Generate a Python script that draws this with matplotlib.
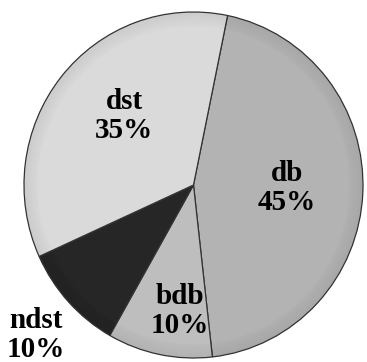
import matplotlib
matplotlib.use("Agg")
import matplotlib.pyplot as plt
import numpy as np

categories = ["db", "bdb", "ndst", "dst"]
values = [45, 10, 10, 35]
pct_labels = ["45%", "10%", "10%", "35%"]
colors = ["#b3b3b3", "#bebebe", "#262626", "#dadada"]

W, H = 367, 362
fig = plt.figure(figsize=(W / 100, H / 100), dpi=100)
cx, cy, rx, ry = 193.5, 185.0, 169.5, 173.0
ax = fig.add_axes([(cx - rx) / W, (H - cy - ry) / H, 2 * rx / W, 2 * ry / H])

wedges, _ = ax.pie(values, colors=colors, startangle=78.4, counterclock=False,
                   wedgeprops=dict(edgecolor="#333333", linewidth=0.9))
ax.set_aspect("auto")
ax.set_xlim(-1, 1)
ax.set_ylim(-1, 1)

# soft rim shading
for r in np.linspace(0.995, 0.92, 20):
    circ = plt.Circle((0, 0), r, fill=False, edgecolor="black",
                      alpha=0.012 * (r - 0.9) / 0.1 * 2, linewidth=1.2)
    ax.add_patch(circ)

def px2d(px, py):
    return (px - cx) / rx, (cy - py) / ry

label_pos = {"db": (287, 188), "bdb": (180, 311), "ndst": (36, 335), "dst": (124, 116)}
font = dict(family="Liberation Serif", fontweight="bold", fontsize=21,
            ha="center", va="center", linespacing=1.05)
for cat, pct in zip(categories, pct_labels):
    x, y = px2d(*label_pos[cat])
    t = ax.text(x, y, f"{cat}\n{pct}", **font)
    t.set_clip_on(False)

fig.savefig("out.png", dpi=100)
